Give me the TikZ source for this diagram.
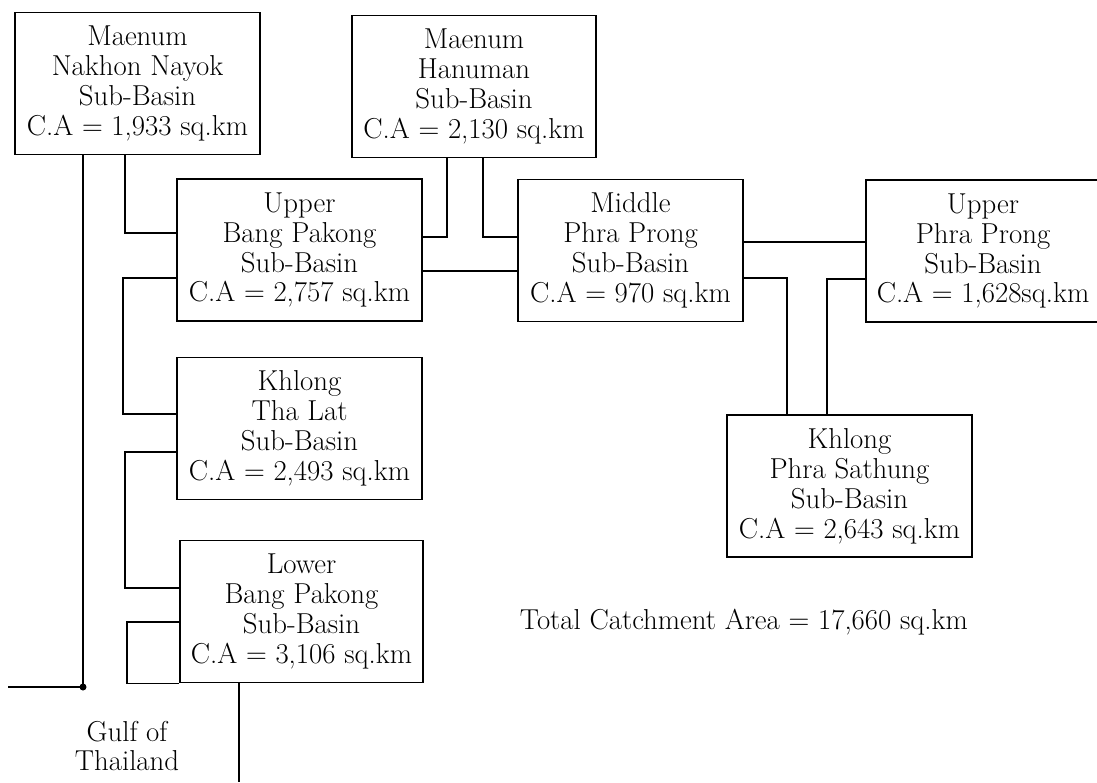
\documentclass[tikz,border=0pt]{standalone}
\usepackage{tikz}
\usetikzlibrary{positioning}
\tikzset{
  basin/.style={draw=black,line width=1.2pt,minimum height=3.55cm,
    inner sep=2pt,align=center,font=\fontsize{20.5}{21.3}\selectfont},
  link/.style={line width=1.2pt,draw=black},
  note/.style={align=center,font=\fontsize{20.5}{21.3}\selectfont},
}

\begin{document}
\begin{tikzpicture}[x=0.025cm,y=-0.025cm]
  \useasboundingbox (0,0) rectangle (1097,782);
  \node[basin,minimum width=6.125cm] (nn)  at (137.5, 83.5) {Maenum\\Nakhon Nayok\\Sub-Basin\\C.A = 1,933 sq.km};
  \node[basin,minimum width=6.1cm]   (han) at (474, 86.5)   {Maenum\\Hanuman\\Sub-Basin\\C.A = 2,130 sq.km};
  \node[basin,minimum width=6.125cm] (ubp) at (299.5,250)   {Upper\\Bang Pakong\\Sub-Basin\\C.A = 2,757 sq.km};
  \node[basin,minimum width=5.625cm] (mpp) at (630.5,250.5) {Middle\\Phra Prong\\Sub-Basin\\C.A = 970 sq.km};
  \node[basin,minimum width=5.85cm]  (upp) at (983,251)     {Upper\\Phra Prong\\Sub-Basin\\C.A = 1,628sq.km};
  \node[basin,minimum width=6.125cm] (ktl) at (299.5,428.5) {Khlong\\Tha Lat\\Sub-Basin\\C.A = 2,493 sq.km};
  \node[basin,minimum width=6.075cm] (lbp) at (301.5,611.5) {Lower\\Bang Pakong\\Sub-Basin\\C.A = 3,106 sq.km};
  \node[basin,minimum width=6.125cm] (kps) at (849.5,486)   {Khlong\\Phra Sathung\\Sub-Basin\\C.A = 2,643 sq.km};
  \node[note,anchor=west] (total) at (515,622) {Total Catchment Area = 17,660 sq.km};
  \node[note] (gulf) at (127,746) {Gulf of\\Thailand};
  \coordinate (mouth) at (83,687);
  \coordinate (gulfw) at (8,687);
  \coordinate (gulfs) at (239,782);
  % left branch
  \draw[link] (nn.south -| mouth) -- (mouth) -- (gulfw);
  \fill (mouth) circle (3.5);
  \draw[link] (nn.south -| 125,0) |- (ubp.west |- 0,233);
  \draw[link] (ubp.west |- 0,278) -- (123,278) |- (ktl.west |- 0,414);
  \draw[link] (ktl.west |- 0,452) -- (125,452) |- (lbp.west |- 0,588);
  \draw[link] (lbp.west |- 0,622) -- (127,622) |- (lbp.south west);
  \draw[link] (lbp.south -| gulfs) -- (gulfs);
  % upper links
  \draw[link] (han.south -| 447,0) |- (ubp.east |- 0,237);
  \draw[link] (han.south -| 483,0) |- (mpp.west |- 0,237);
  \draw[link] (ubp.east |- 0,271) -- (mpp.west |- 0,271);
  \draw[link] (mpp.east |- 0,242) -- (upp.west |- 0,242);
  % right branch
  \draw[link] (mpp.east |- 0,278) -| (kps.north -| 787,0);
  \draw[link] (upp.west |- 0,279) -| (kps.north -| 827,0);
\end{tikzpicture}
\end{document}
